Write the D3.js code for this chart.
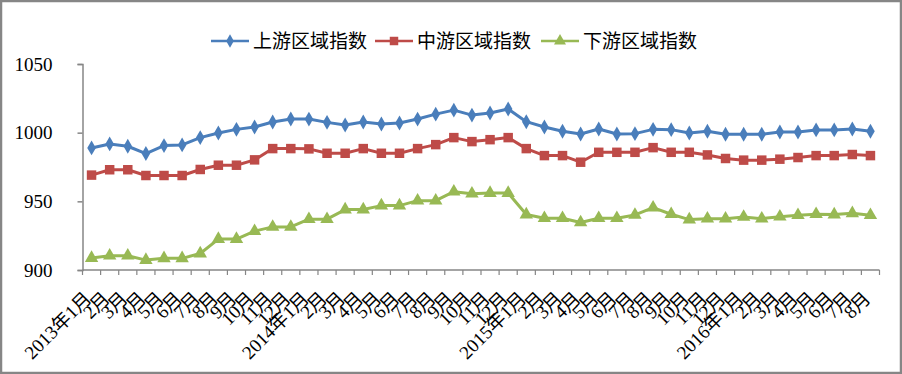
<!DOCTYPE html>
<html><head><meta charset="utf-8">
<script src="https://cdn.jsdelivr.net/npm/d3@7"></script>
<style>body{margin:0;background:#fff;} svg{display:block;}</style>
</head><body>
<script>
const categories = [];
const years = [2013, 2014, 2015, 2016];
years.forEach(y => {
  const last = y === 2016 ? 8 : 12;
  for (let m = 1; m <= last; m++) categories.push(m === 1 ? y + "年" + m + "月" : m + "月");
});
const seriesNames = ["上游区域指数", "中游区域指数", "下游区域指数"];
const upstream = [988.9, 991.8, 990.1, 984.8, 990.6, 991.1, 996.4, 999.8, 1002.4, 1004.1,
  1007.8, 1010.0, 1009.9, 1007.5, 1005.6, 1007.8, 1006.3, 1007.0, 1009.9, 1013.5,
  1016.4, 1012.8, 1014.3, 1017.2, 1008.0, 1004.1, 1001.0, 999.0, 1002.7, 999.0,
  999.3, 1002.4, 1002.2, 999.8, 1001.0, 998.8, 998.8, 998.8, 1000.5, 1000.5,
  1002.0, 1002.0, 1002.7, 1001.0];
const midstream = [969.1, 973.0, 973.0, 968.8, 968.8, 968.8, 973.2, 976.3, 976.3, 980.2,
  988.4, 988.4, 988.2, 985.0, 985.0, 988.4, 985.0, 985.0, 988.4, 991.3,
  996.4, 993.5, 994.9, 996.4, 988.4, 983.3, 983.3, 978.5, 985.7, 985.7,
  985.7, 989.1, 985.7, 985.7, 983.8, 981.2, 980.0, 980.0, 980.7, 981.9,
  983.3, 983.3, 984.1, 983.3];
const downstream = [908.7, 910.4, 910.4, 907.2, 908.5, 908.5, 912.0, 922.5, 922.5, 928.3,
  931.4, 931.4, 937.0, 937.0, 944.0, 944.0, 946.9, 946.9, 950.5, 950.5,
  957.0, 955.6, 956.0, 956.0, 940.4, 937.7, 937.7, 934.6, 937.7, 937.7,
  940.1, 945.4, 940.6, 936.7, 937.4, 937.4, 938.6, 937.4, 938.8, 939.9,
  940.6, 940.4, 941.3, 939.9];
const yTicks = [900, 950, 1000, 1050];
const colors = ["#4A7EBB", "#BE4B48", "#98B954"];
const symbols = [d3.symbolDiamond, d3.symbolSquare, d3.symbolTriangle];
const symSizes = [64, 90, 78];

const W = 902, H = 374;
const svg = d3.select("body").append("svg").attr("width", W).attr("height", H);
svg.append("rect").attr("x", 1).attr("y", 1).attr("width", W - 2).attr("height", H - 2)
  .attr("fill", "#fff").attr("stroke", "#868686").attr("stroke-width", 2.5);

const idx = d3.range(categories.length);
const x = d3.scaleBand().domain(idx).range([82.5, 879.5]);
const cx = i => x(i) + x.bandwidth() / 2;
const y = d3.scaleLinear().domain([900, 1050]).range([270, 64]);
const axisColor = "#868686";
const serif = "'Liberation Serif','Times New Roman','Noto Sans CJK SC',serif";

// Y axis
const yAxis = svg.append("g").attr("transform", "translate(82.5,0)")
  .call(d3.axisLeft(y).tickValues(yTicks).tickSize(5).tickFormat(d3.format("d")));
yAxis.select(".domain").attr("stroke", axisColor).attr("stroke-width", 1.5);
yAxis.selectAll(".tick line").attr("stroke", axisColor).attr("stroke-width", 1.5);
yAxis.selectAll(".tick text").attr("font-family", serif).attr("font-size", 19).attr("fill", "#000")
  .attr("x", -30).attr("text-anchor", "end");

// X axis
const xAxis = svg.append("g").attr("transform", "translate(0,270)");
xAxis.append("line").attr("x1", 82.5).attr("x2", 879.5).attr("y1", 0).attr("y2", 0)
  .attr("stroke", axisColor).attr("stroke-width", 1.5);
const bounds = idx.map(i => x(i)).concat([x.range()[1]]);
xAxis.selectAll("line.tk").data(bounds).enter().append("line").attr("class", "tk")
  .attr("x1", d => d).attr("x2", d => d).attr("y1", 0).attr("y2", 5)
  .attr("stroke", axisColor).attr("stroke-width", 1.2);
xAxis.selectAll("text").data(idx).enter().append("text")
  .attr("transform", i => `translate(${cx(i) - 3.5},${25}) rotate(-45)`)
  .attr("text-anchor", "end").attr("dy", "0.35em")
  .attr("font-family", serif).attr("font-size", 19).attr("fill", "#000")
  .text(i => categories[i]);

// Series
const allSeries = [upstream, midstream, downstream];
const line = d3.line().x((d, i) => cx(i)).y(d => y(d));
allSeries.forEach((s, k) => {
  const g = svg.append("g");
  g.append("path").datum(s).attr("d", line).attr("fill", "none")
    .attr("stroke", colors[k]).attr("stroke-width", 3).attr("stroke-linejoin", "round");
  g.selectAll("path.m").data(s).enter().append("path").attr("class", "m")
    .attr("d", d3.symbol().type(symbols[k]).size(symSizes[k]))
    .attr("transform", (d, i) => `translate(${cx(i)},${y(d)})`)
    .attr("fill", colors[k]);
});

// Legend
const legX = [211, 375, 541];
const leg = svg.append("g");
seriesNames.forEach((n, k) => {
  const gy = 41;
  leg.append("line").attr("x1", legX[k]).attr("x2", legX[k] + 38).attr("y1", gy).attr("y2", gy)
    .attr("stroke", colors[k]).attr("stroke-width", 2.5);
  leg.append("path").attr("d", d3.symbol().type(symbols[k]).size(symSizes[k] * 0.8))
    .attr("transform", `translate(${legX[k] + 19},${gy})`).attr("fill", colors[k]);
  leg.append("text").attr("x", legX[k] + 42).attr("y", gy).attr("dy", "0.36em")
    .attr("font-family", "'Noto Sans CJK SC',sans-serif").attr("font-size", 19).attr("fill", "#000")
    .text(n);
});
</script>
</body></html>
